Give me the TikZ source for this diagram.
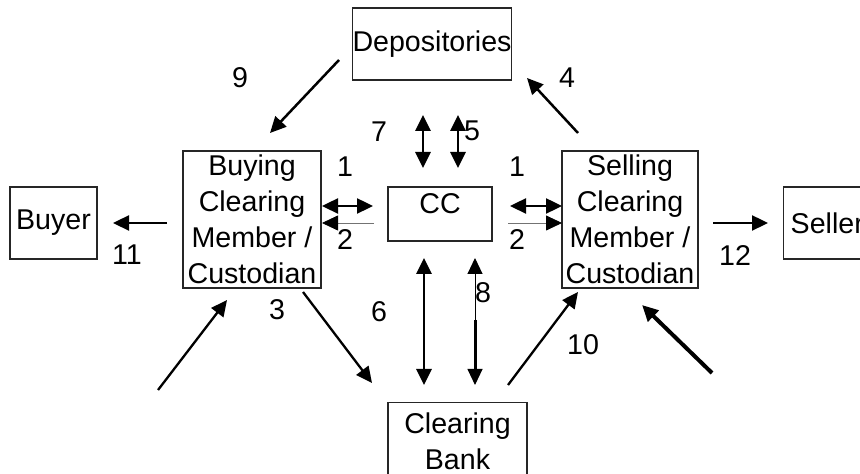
\documentclass[tikz,border=0pt]{standalone}
\usepackage{fontspec}
\setmainfont{Liberation Sans}
\usetikzlibrary{arrows.meta}

\tikzset{
  box/.style={draw=black!85, line width=0.7pt, align=center, inner sep=0pt},
  flow/.style={->, line width=1.25pt},
  both/.style={<->, line width=1.4pt},
  hair/.style={-{Triangle[length=8pt,width=7.5pt,color=black]}, line width=0.4pt, draw=black!55},
  num/.style={inner sep=0pt}
}

\begin{document}
\begin{tikzpicture}[x=0.5pt, y=-0.5pt, >={Triangle[length=8pt,width=7.5pt]},
    font=\fontsize{14.3}{18}\selectfont]
    \useasboundingbox (0,0) rectangle (860,474);
    % boxes
    \node [box, minimum width=78pt, minimum height=36pt] (dep) at (432,44) {Depositories};
    \node [box, minimum width=43.5pt, minimum height=36pt] (buyer) at (53.5,223) {Buyer};
    \node [box, minimum width=69pt, minimum height=68.5pt] (bcm) at (252,219.5) {Buying\\Clearing\\Member /\\Custodian};
    \node [box, minimum width=52pt, minimum height=27pt, text depth=10pt] (cc) at (440,214) {CC};
    \node [box, minimum width=68pt, minimum height=68.5pt] (scm) at (630,219.5) {Selling\\Clearing\\Member /\\Custodian};
    \node [box, anchor=west, inner xsep=3.5pt, minimum height=36pt] (seller) at (783,223) {Seller};
    \node [box, anchor=north, minimum width=69.5pt, inner ysep=5pt] (bank) at (457.5,402) {Clearing\\Bank};
    % arrow ends
    \coordinate (a9s) at (339,60);   \coordinate (a9e) at (270,133);
    \coordinate (a4s) at (578,133);  \coordinate (a4e) at (527,78);
    \coordinate (a7t) at (423,115);  \coordinate (a7b) at (423,168);
    \coordinate (a5t) at (458,115);  \coordinate (a5b) at (458,168);
    \coordinate (l1a) at (322,206);  \coordinate (l1b) at (373,206);
    \coordinate (l2a) at (374,223);  \coordinate (l2b) at (322,223);
    \coordinate (r1a) at (510,206);  \coordinate (r1b) at (562,206);
    \coordinate (r2a) at (508,223);  \coordinate (r2b) at (562,223);
    \coordinate (a6t) at (424,258);  \coordinate (a6b) at (424,385);
    \coordinate (a8t) at (475,258);  \coordinate (a8m) at (475,320);
    \coordinate (a8n) at (475,372);  \coordinate (a8b) at (475,385);
    \coordinate (a3s) at (303,292);  \coordinate (a3e) at (372,383);
    \coordinate (a10s) at (508,385); \coordinate (a10e) at (578,292);
    \coordinate (lbs) at (158,390);  \coordinate (lbe) at (227,300);
    \coordinate (rbs) at (712,373);  \coordinate (rbe) at (642,305);
    \coordinate (a11s) at (167,223); \coordinate (a11e) at (113,223);
    \coordinate (a12s) at (713,223); \coordinate (a12e) at (768,223);
    % arrows
    \draw [flow] (a9s) -- (a9e);
    \draw [flow] (a4s) -- (a4e);
    \draw [both] (a7t) -- (a7b);
    \draw [both] (a5t) -- (a5b);
    \draw [both, line width=1.2pt] (l1a) -- (l1b);
    \draw [hair] (l2a) -- (l2b);
    \draw [both, line width=1.2pt] (r1a) -- (r1b);
    \draw [hair] (r2a) -- (r2b);
    \draw [both] (a6t) -- (a6b);
    \draw [both, line width=0.5pt] (a8t) -- (a8b);
    \draw [line width=1.5pt] (a8m) -- (a8n);
    \draw [flow, line width=1.15pt] (a3s) -- (a3e);
    \draw [flow, line width=1.15pt] (a10s) -- (a10e);
    \draw [flow, line width=1.15pt] (lbs) -- (lbe);
    \draw [flow, line width=2pt] (rbs) -- (rbe);
    \draw [flow, line width=1.15pt] (a11s) -- (a11e);
    \draw [flow, line width=1.15pt] (a12s) -- (a12e);
    % numbers
    \node [num] (n9) at (240,78) {9};
    \node [num] (n4) at (567,78) {4};
    \node [num] (n7) at (379,132) {7};
    \node [num] (n5) at (472,131) {5};
    \node [num] (n1l) at (345,167) {1};
    \node [num] (n2l) at (345,240) {2};
    \node [num] (n1r) at (517,167) {1};
    \node [num] (n2r) at (517,240) {2};
    \node [num] (n6) at (379,312) {6};
    \node [num] (n8) at (483,293) {8};
    \node [num] (n3) at (277,310) {3};
    \node [num] (n10) at (583,345) {10};
    \node [num] (n11) at (127,255) {11};
    \node [num] (n12) at (735,256) {12};
\end{tikzpicture}
\end{document}
